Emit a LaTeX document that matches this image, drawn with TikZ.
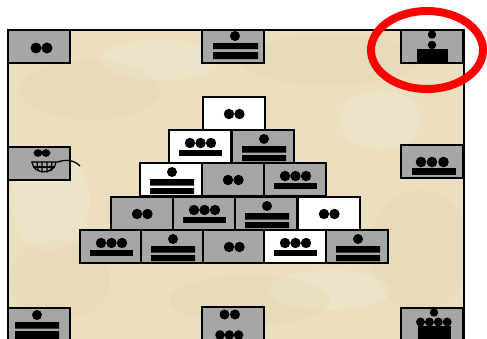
\documentclass[tikz,border=0pt]{standalone}
\definecolor{parch}{RGB}{235,223,192}
\definecolor{parchdark}{RGB}{214,198,158}
\definecolor{tilegray}{RGB}{166,166,166}
\definecolor{ringred}{RGB}{255,0,0}
\tikzset{
  tile/.style={draw=black,line width=1.5pt,minimum width=62pt,minimum height=33pt,inner sep=0pt,outer sep=0pt,anchor=north west},
  graytile/.style={tile,fill=tilegray},
  whitetile/.style={tile,fill=white},
  frame/.style={draw=black,line width=1.5pt},
  ring/.style={draw=ringred,line width=8pt},
  blot/.style={fill=parchdark,opacity=0.13},
  glint/.style={fill=white,opacity=0.13},
}
\newcommand\mtile[5]{\node[#4] (#1) at (#2,#3) {};\begin{scope}[shift={(#2,#3)}]#5\end{scope}}
\newcommand\gtwo{\fill (26,17) circle (5.2pt) (36.5,17) circle (5.2pt);}
\newcommand\gthree{\fill (21,13) circle (5.2pt) (31.5,13) circle (5.2pt) (42,13) circle (5.2pt); \fill (10,20) rectangle (53,25.5);}
\newcommand\gseven{\fill (32,9) circle (5pt); \fill (10,16) rectangle (54,22.5) (10,25) rectangle (54,31);}
\begin{document}
\begin{tikzpicture}[x=1pt,y=-1pt]
\useasboundingbox (0,0) rectangle (487,338);
\clip (0,0) rectangle (487,338);
\fill[white] (0,0) rectangle (487,338);
% parchment
\fill[parch] (8,30) rectangle (464,345);
\begin{scope}
\clip (8,30) rectangle (464,345);
\fill[blot] (90,90) ellipse (70pt and 30pt);
\fill[blot] (330,60) ellipse (90pt and 25pt);
\fill[blot] (420,250) ellipse (50pt and 60pt);
\fill[blot] (60,280) ellipse (50pt and 40pt);
\fill[blot] (250,300) ellipse (80pt and 25pt);
\fill[glint] (160,60) ellipse (60pt and 20pt);
\fill[glint] (380,120) ellipse (40pt and 30pt);
\fill[glint] (50,200) ellipse (40pt and 50pt);
\fill[glint] (330,290) ellipse (60pt and 20pt);
\end{scope}
\draw[frame] (8,345) -- (8,30) -- (464,30) -- (464,345);
% corner and side tiles
\mtile{tl}{8}{30}{graytile}{\fill (28,18) circle (5.5pt) (39,18) circle (5.5pt);}
\mtile{tm}{202}{30}{graytile}{\fill (33,6) circle (5pt); \fill (11,13) rectangle (56,19) (11,22) rectangle (56,29);}
\mtile{tr}{401}{30}{graytile}{\fill (31,4.5) circle (4.2pt) (31,15) circle (4.2pt); \fill (16,19) rectangle (47,32);}
\mtile{ml}{8}{147}{graytile}{}
\begin{scope}[line width=1.3pt]
\fill (38,153) ellipse (4.4pt and 3.8pt) (46,153) ellipse (4.4pt and 3.8pt);
\draw (31,162) -- (58,162) .. controls (66,159) and (74,160) .. (80,166);
\draw (32,162) .. controls (33,175) and (55,175) .. (56,162);
\draw (37,162) -- (38,171) (42,162) -- (42,172.5) (47,162) -- (47,172.5) (52,162) -- (51,171);
\draw (33,167) -- (55,167);
\end{scope}
\mtile{mr}{401}{145}{graytile}{\fill (20,17) circle (5.3pt) (31,17) circle (5.3pt) (42.5,17) circle (5.3pt); \fill (11,23) rectangle (55,30);}
\mtile{bl}{8}{308}{graytile}{\fill (29,7) circle (5pt); \fill (7,14) rectangle (51,20.5) (7,23) rectangle (51,32);}
\mtile{bm}{202}{307}{graytile}{\fill (22.5,7.5) circle (5pt) (33,7.5) circle (5pt); \fill (18,28) circle (4.8pt) (27.3,28) circle (4.8pt) (36.6,28) circle (4.8pt);}
\mtile{br}{401}{308}{graytile}{\fill (33,4.5) circle (4.2pt); \fill (19.5,14) circle (4.5pt) (28.4,14) circle (4.5pt) (37.3,14) circle (4.5pt) (46.2,14) circle (4.5pt); \fill (17,18) rectangle (50,35);}
% pyramid
\mtile{pa}{203}{97}{whitetile}{\gtwo}
\mtile{pb1}{169}{130}{whitetile}{\gthree}
\mtile{pb2}{232}{130}{graytile}{\gseven}
\mtile{pc1}{140}{163}{whitetile}{\gseven}
\mtile{pc2}{202}{163}{graytile}{\gtwo}
\mtile{pc3}{264}{163}{graytile}{\gthree}
\mtile{pd1}{111}{197}{graytile}{\gtwo}
\mtile{pd2}{173}{197}{graytile}{\gthree}
\mtile{pd3}{235}{197}{graytile}{\gseven}
\mtile{pd4}{298}{197}{whitetile}{\gtwo}
\mtile{pe1}{80}{230}{graytile}{\gthree}
\mtile{pe2}{141}{230}{graytile}{\gseven}
\mtile{pe3}{203}{230}{graytile}{\gtwo}
\mtile{pe4}{264}{230}{whitetile}{\gthree}
\mtile{pe5}{326}{230}{graytile}{\gseven}
% red ring
\draw[ring] (427,50) ellipse (56pt and 39pt);
\end{tikzpicture}
\end{document}
